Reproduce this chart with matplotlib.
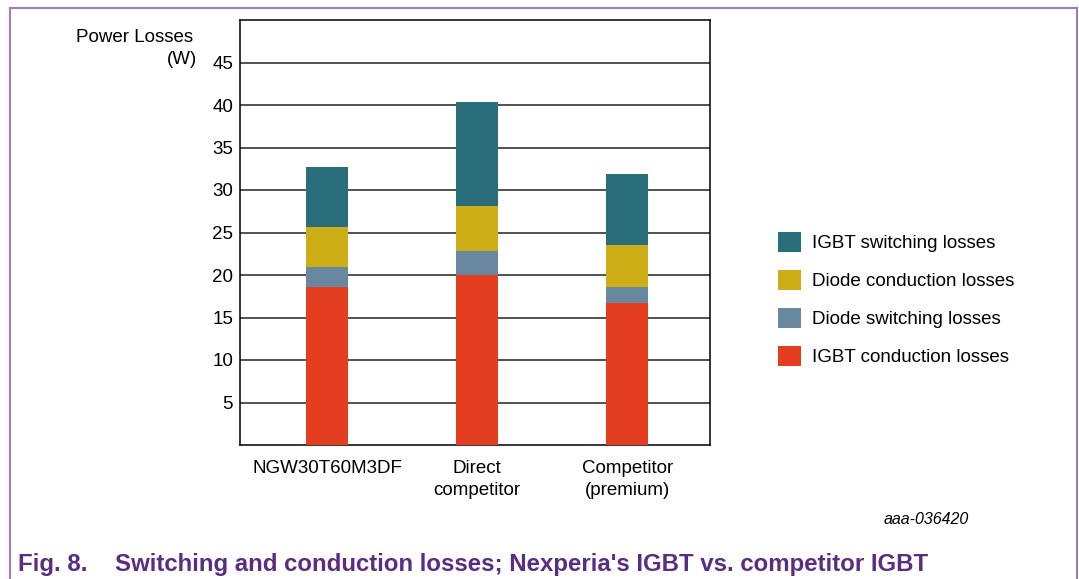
import matplotlib.pyplot as plt
import numpy as np
from matplotlib.lines import Line2D

plt.rcParams['font.family'] = ['Liberation Sans', 'DejaVu Sans']

categories = ['NGW30T60M3DF', 'Direct\ncompetitor', 'Competitor\n(premium)']
igbt_conduction = [18.55, 19.95, 16.7]
diode_switching = [2.45, 2.85, 1.85]
diode_conduction = [4.6, 5.35, 4.95]
igbt_switching = [7.1, 12.25, 8.4]

series = [
    ('IGBT conduction losses', igbt_conduction, '#e33e1f'),
    ('Diode switching losses', diode_switching, '#67889e'),
    ('Diode conduction losses', diode_conduction, '#cdae16'),
    ('IGBT switching losses', igbt_switching, '#296e7a'),
]

fig = plt.figure(figsize=(10.79, 5.79), dpi=100)
ax = fig.add_axes([240 / 1079, 1 - 445 / 579, 470 / 1079, 425 / 579])

x = np.arange(len(categories))
bottom = np.zeros(len(categories))
handles = {}
for name, vals, col in series:
    b = ax.bar(x, vals, 0.28, bottom=bottom, color=col, zorder=3, label=name)
    handles[name] = b
    bottom += np.array(vals)

ax.set_ylim(0, 50)
ax.set_xlim(-0.58, 2.55)
ax.set_yticks(range(5, 50, 5))
ax.yaxis.grid(True, color='#222222', lw=1.1)
ax.set_axisbelow(True)
ax.tick_params(length=0, labelsize=13.5, pad=5)
ax.set_xticks(x)
ax.set_xticklabels(categories, fontsize=13.5, linespacing=1.4)
ax.tick_params(axis='x', pad=11)
for s in ax.spines.values():
    s.set_color('black')
    s.set_linewidth(1.1)

fig.text(193 / 1079, 1 - 37 / 579, 'Power Losses', ha='right', va='center', fontsize=13.5)
fig.text(197 / 1079, 1 - 60 / 579, '(W)', ha='right', va='center', fontsize=13.5)

order = ['IGBT switching losses', 'Diode conduction losses',
         'Diode switching losses', 'IGBT conduction losses']
fig.legend([handles[n] for n in order], order, loc='upper left',
           bbox_to_anchor=(761 / 1079, 1 - 215 / 579), frameon=False, fontsize=13.5,
           handlelength=1.25, handleheight=1.25, labelspacing=0.95, handletextpad=0.55)

fig.text(926 / 1079, 1 - 519 / 579, 'aaa-036420', ha='center', va='center',
         fontsize=11.5, style='italic')

purple = '#5b2c83'
fig.text(18 / 1079, 1 - 565 / 579, 'Fig. 8.', ha='left', va='center', fontsize=17.3,
         fontweight='bold', color=purple)
fig.text(115 / 1079, 1 - 565 / 579,
         "Switching and conduction losses; Nexperia's IGBT vs. competitor IGBT",
         ha='left', va='center', fontsize=17.3, fontweight='bold', color=purple)

frame = '#9b7cc0'
fig.add_artist(Line2D([10 / 1079, 10 / 1079], [0, 1 - 8 / 579], color=frame, lw=1.5))
fig.add_artist(Line2D([10 / 1079, 1077 / 1079], [1 - 8 / 579, 1 - 8 / 579], color=frame, lw=1.5))
fig.add_artist(Line2D([1077 / 1079, 1077 / 1079], [0, 1 - 8 / 579], color=frame, lw=1.5))

fig.savefig('out.png', dpi=100)
